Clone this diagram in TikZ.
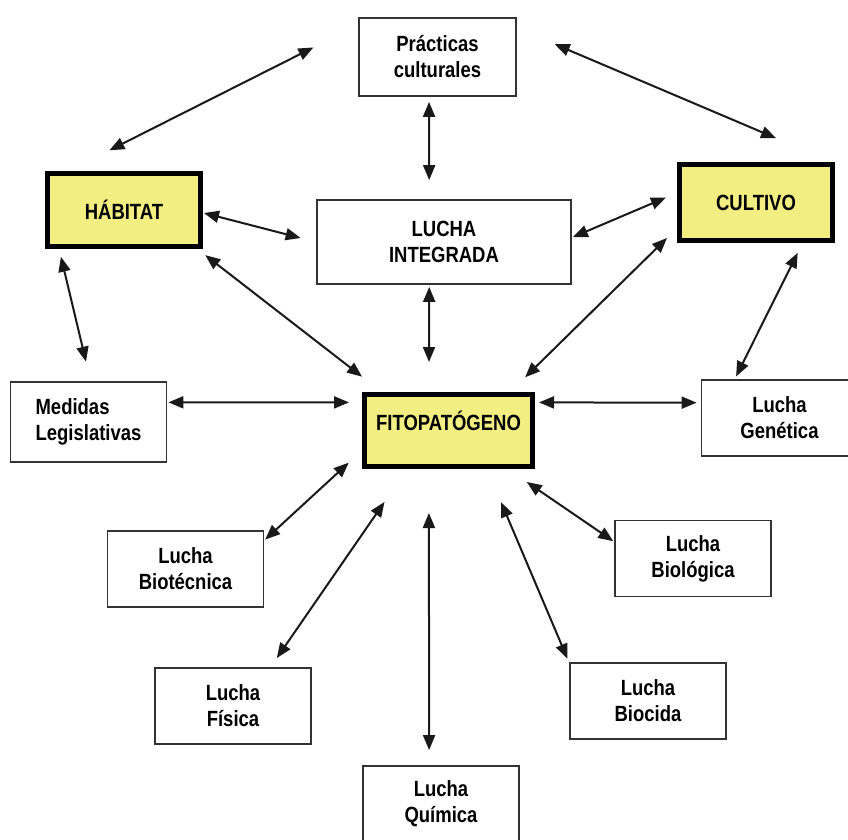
\documentclass[tikz,border=0pt]{standalone}
\usepackage{fontspec}
\setmainfont{Liberation Sans}[FakeStretch=0.84]
\usetikzlibrary{arrows.meta}
\definecolor{boxyellow}{RGB}{243,238,130}

\begin{document}
\begin{tikzpicture}[x=1pt, y=-1pt,
    every node/.style = {font=\fontsize{22}{26}\selectfont\bfseries, align=center, inner sep=0pt},
    main/.style = {draw=black!80, line width=1.8pt, fill=white, minimum width=156pt, minimum height=76pt},
    core/.style = {draw=black, line width=5pt, fill=boxyellow},
    link/.style = {{Triangle[length=15pt,width=12pt]}-{Triangle[length=15pt,width=12pt]}, line width=2pt, draw=black!90}]
        \useasboundingbox (0,0) rectangle (848,839);
        %
        \node[main, minimum width=157pt, minimum height=78pt] (pc) at (437.5,57) {Prácticas\\culturales};
        \node[core, minimum width=153pt, minimum height=73pt] (hab) at (124,210) {HÁBITAT};
        \node[main, minimum width=254pt, minimum height=84pt] (li) at (444,242) {LUCHA\\INTEGRADA};
        \node[core, minimum width=153pt, minimum height=76pt] (cul) at (756,202.5) {CULTIVO};
        \node[main, minimum height=80pt, align=left] (med) at (88.5,422) {Medidas\\Legislativas};
        \node[core, minimum width=168pt, minimum height=72pt, text depth=20pt] (fito) at (448.5,430.5) {FITOPATÓGENO};
        \node[main] (gen) at (779.5,418) {Lucha\\Genética};
        \node[main] (bt) at (185.5,569) {Lucha\\Biotécnica};
        \node[main] (bl) at (693,558.5) {Lucha\\Biológica};
        \node[main] (fis) at (233,706) {Lucha\\Física};
        \node[main] (bc) at (648,701) {Lucha\\Biocida};
        \node[main] (qui) at (441,804) {Lucha\\Química};
        %
        \draw[link, shorten <=50pt, shorten >=46pt] (pc.158) -- (hab.145);
        \draw[link, shorten <=41pt, shorten >=61pt] (pc.20) -- (cul.28);
        \draw[link, shorten <=5pt, shorten >=19pt] (pc.258) -- (li.109);
        \draw[link, shorten <=1pt, shorten >=16pt] (hab.-2) -- (li.180);
        \draw[link, shorten <=1pt, shorten >=12pt] (li.2) -- (cul.173);
        \draw[link, shorten <=2pt, shorten >=30pt] (li.251) -- (fito.117);
        \draw[link, shorten <=10pt, shorten >=25pt] (hab.-28) -- (fito.150);
        \draw[link, shorten <=14pt, shorten >=21pt] (cul.198) -- (fito.32);
        \draw[link, shorten <=8pt, shorten >=20pt] (hab.211) -- (med.87);
        \draw[link, shorten <=11pt, shorten >=3pt] (cul.319) -- (gen.139);
        \draw[link, shorten <=1pt, shorten >=13pt] (med.14) -- (fito.162);
        \draw[link, shorten <=4pt, shorten >=4pt] (fito.18) -- (gen.169);
        \draw[link, shorten <=18pt, shorten >=1pt] (fito.193) -- (bt.20);
        \draw[link, shorten <=40pt, shorten >=11pt] (fito.223) -- (fis.46);
        \draw[link, shorten <=44pt, shorten >=15pt] (fito.243) -- (qui.107);
        \draw[link, shorten <=36pt, shorten >=4pt] (fito.315) -- (bc.154);
        \draw[link, shorten <=23pt, shorten >=1pt] (fito.327) -- (bl.168);
      \end{tikzpicture}
\end{document}
